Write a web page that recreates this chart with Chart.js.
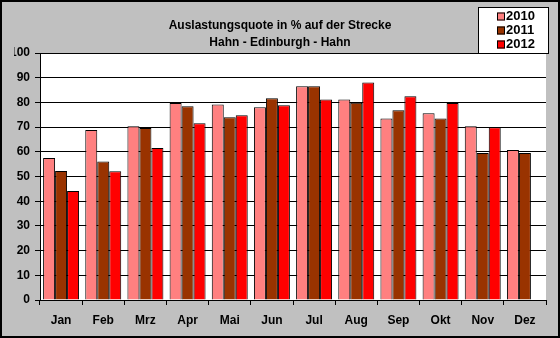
<!DOCTYPE html>
<html>
<head>
<meta charset="utf-8">
<script src="https://cdn.jsdelivr.net/npm/chart.js@4/dist/chart.umd.min.js"></script>
<style>
  html, body { margin: 0; padding: 0; background: #c0c0c0; }
  #wrap { width: 560px; height: 338px; }
</style>
</head>
<body>
<div id="wrap"><canvas id="chart" width="560" height="338"></canvas></div>
<script>
// months and load factor (%) per year
var months = ["Jan", "Feb", "Mrz", "Apr", "Mai", "Jun", "Jul", "Aug", "Sep", "Okt", "Nov", "Dez"];
var years = ["2010", "2011", "2012"];
var load2010 = [57.5, 68.8, 70.3, 79.8, 79.2, 78.0, 86.5, 81.2, 73.5, 75.6, 70.3, 60.7];
var load2011 = [52.2, 56.1, 69.6, 78.4, 74.0, 81.7, 86.5, 79.9, 76.8, 73.5, 59.5, 59.5];
var load2012 = [44.1, 52.1, 61.5, 71.6, 74.8, 78.8, 81.2, 88.1, 82.5, 79.8, 69.9, null];
var yTicks = [0, 10, 20, 30, 40, 50, 60, 70, 80, 90, 100];
var titleLines = ["Auslastungsquote in % auf der Strecke", "Hahn - Edinburgh - Hahn"];

var colors = ["#ff8080", "#993300", "#ff0000"];
var font = "'Liberation Sans', Arial, sans-serif";

function makeSet(i, data) {
    return {
        label: years[i],
        data: data,
        backgroundColor: colors[i],
        borderColor: "#000000",
        borderWidth: 1,
        categoryPercentage: 0.853,
        barPercentage: 1.0
    };
}

// grey frame + white plot area, drawn before everything else
var framePlugin = {
    id: "frame",
    beforeDraw: function (chart) {
        var ctx = chart.ctx;
        var a = chart.chartArea;
        ctx.save();
        ctx.fillStyle = "#c0c0c0";
        ctx.fillRect(0, 0, chart.width, chart.height);
        ctx.strokeStyle = "#000000";
        ctx.lineWidth = 2;
        ctx.strokeRect(1, 1, chart.width - 2, chart.height - 2);
        ctx.fillStyle = "#ffffff";
        ctx.fillRect(a.left, a.top, a.right - a.left, a.bottom - a.top);
        ctx.restore();
    }
};

// boxed legend in the top right corner, like the Excel one
var legendPlugin = {
    id: "boxLegend",
    afterDraw: function (chart) {
        var ctx = chart.ctx;
        var x = 478, y = 7, w = 71, h = 47;
        ctx.save();
        ctx.fillStyle = "#ffffff";
        ctx.fillRect(x, y, w, h);
        ctx.strokeStyle = "#000000";
        ctx.lineWidth = 1;
        ctx.strokeRect(x + 0.5, y + 0.5, w - 1, h - 1);
        ctx.font = "bold 13px " + font;
        ctx.textBaseline = "middle";
        chart.data.datasets.forEach(function (ds, i) {
            var cy = y + 9.5 + i * 14;
            ctx.fillStyle = ds.backgroundColor;
            ctx.fillRect(x + 19, cy - 4, 8, 8);
            ctx.strokeRect(x + 19.5, cy - 3.5, 7, 7);
            ctx.fillStyle = "#000000";
            ctx.fillText(ds.label, x + 28, cy);
        });
        ctx.restore();
    }
};

new Chart(document.getElementById("chart"), {
    type: "bar",
    data: {
        labels: months,
        datasets: [makeSet(0, load2010), makeSet(1, load2011), makeSet(2, load2012)]
    },
    plugins: [framePlugin, legendPlugin],
    options: {
        responsive: false,
        animation: false,
        layout: { padding: { top: 0, left: 14, right: 14, bottom: 0 } },
        plugins: {
            legend: { display: false },
            tooltip: { enabled: false },
            title: {
                display: true,
                text: titleLines,
                color: "#000000",
                font: { family: font, size: 12, weight: "bold", lineHeight: 17 / 12 },
                padding: { top: 17.5, bottom: 1.5 }
            }
        },
        scales: {
            x: {
                grid: { display: true, offset: true, drawOnChartArea: false, color: "#000000", tickLength: 5 },
                border: { color: "#000000", width: 1 },
                ticks: { color: "#000000", padding: 8, font: { family: font, size: 12, weight: "bold" } },
                afterFit: function (scale) { scale.height = 38; }
            },
            y: {
                min: 0,
                max: 100,
                afterBuildTicks: function (scale) {
                    scale.ticks = yTicks.map(function (v) { return { value: v }; });
                },
                grid: { color: "#000000", tickLength: 5 },
                border: { color: "#000000", width: 1 },
                ticks: { color: "#000000", padding: 5, font: { family: font, size: 12, weight: "bold" } },
                afterFit: function (scale) { scale.width = 26; }
            }
        }
    }
});
</script>
</body>
</html>
